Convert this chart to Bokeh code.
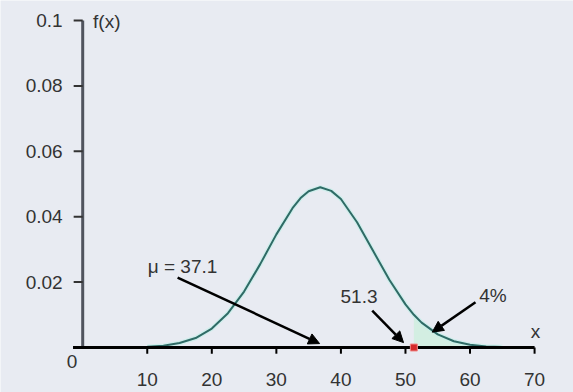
from bokeh.plotting import figure
from bokeh.models import Arrow, NormalHead
from bokeh.core.properties import value
from bokeh.embed import file_html
from bokeh.resources import INLINE

# ---- data ----
curve_x = [10, 12.5, 15, 17.5, 20, 22.5, 25, 27.5, 30, 32.5, 33.75, 35, 36.8, 38.5,
           40, 42.5, 45, 47.5, 50, 51.3, 52.5, 55, 57.5, 60, 62.5, 65]
curve_y = [0.00022, 0.00057, 0.00136, 0.0029, 0.0058, 0.0105, 0.0171, 0.0255, 0.0346,
           0.0426, 0.0457, 0.0478, 0.049, 0.0479, 0.0454, 0.0383, 0.0295, 0.0207,
           0.0132, 0.0100, 0.0076, 0.0040, 0.0019, 0.00084, 0.00034, 0.00012]
mean_value = 36.8
mean_label = "37.1"
threshold = 51.3
tail_pct = "4%"
x_ticks = [10, 20, 30, 40, 50, 60, 70]
y_ticks = [0.02, 0.04, 0.06, 0.08, 0.1]
y_tick_labels = ["0.02", "0.04", "0.06", "0.08", "0.1"]

BG = "#e8ebf2"
TXT = "#333333"
FONT = value("Liberation Sans")
FS = "19px"

W, H = 573, 392
p = figure(width=W, height=H, output_backend="svg", toolbar_location=None,
           x_range=(-12.734, 76.03), y_range=(-0.013761, 0.10612),
           min_border=0, min_border_left=0, min_border_right=0,
           min_border_top=0, min_border_bottom=0)
p.axis.visible = False
p.grid.visible = False
p.outline_line_color = None
p.background_fill_color = BG
p.border_fill_color = BG

# shaded tail
tx = [x for x in curve_x if x >= threshold]
ty = [y for x, y in zip(curve_x, curve_y) if x >= threshold]
p.varea(x=tx, y1=[0] * len(tx), y2=ty, fill_color="#d3eee2")

# curve (light halo + line)
p.line(curve_x, curve_y, line_color="#c4f0ea", line_width=4.5, line_alpha=0.7)
p.line(curve_x, curve_y, line_color="#2f6b66", line_width=2)

# axes
p.segment(x0=[0], y0=[0], x1=[0], y1=[y_ticks[-1]], line_color="#50545e", line_width=3)
p.segment(x0=[-1.4] * len(y_ticks), y0=y_ticks, x1=[0] * len(y_ticks), y1=y_ticks,
          line_color="#333333", line_width=2)
p.segment(x0=[-1.5], y0=[0], x1=[x_ticks[-1]], y1=[0], line_color="#000000", line_width=3)
p.segment(x0=x_ticks, y0=[0] * len(x_ticks), x1=x_ticks, y1=[-0.0019] * len(x_ticks),
          line_color="#000000", line_width=2)

# tick labels
p.text(x=[-3.1] * len(y_ticks), y=y_ticks, text=y_tick_labels, text_align="right",
       text_baseline="middle", text_font=FONT, text_font_size=FS, text_color=TXT)
p.text(x=x_ticks, y=[-0.0098] * len(x_ticks), text=[str(t) for t in x_ticks],
       text_align="center", text_baseline="middle", text_font=FONT,
       text_font_size=FS, text_color=TXT)
p.text(x=[-1.66], y=[-0.0044], text=["0"], text_align="center", text_baseline="middle",
       text_font=FONT, text_font_size=FS, text_color=TXT)
p.text(x=[1.6], y=[0.0997], text=["f(x)"], text_align="left", text_baseline="middle",
       text_font=FONT, text_font_size=FS, text_color=TXT)
p.text(x=[70.15], y=[0.0049], text=["x"], text_align="center", text_baseline="middle",
       text_font=FONT, text_font_size=FS, text_color=TXT)

# annotations
p.text(x=[15.46], y=[0.0249], text=["\u03bc = " + mean_label], text_align="center",
       text_baseline="middle", text_font=FONT, text_font_size=FS, text_color=TXT)
p.text(x=[42.8], y=[0.0156], text=[str(threshold)], text_align="center",
       text_baseline="middle", text_font=FONT, text_font_size=FS, text_color=TXT)
p.text(x=[63.56], y=[0.0159], text=[tail_pct], text_align="center",
       text_baseline="middle", text_font=FONT, text_font_size=FS, text_color=TXT)

def arrow(x0, y0, x1, y1):
    p.add_layout(Arrow(end=NormalHead(size=11, fill_color="black", line_color="black"),
                       x_start=x0, y_start=y0, x_end=x1, y_end=y1,
                       line_color="black", line_width=2.5))

arrow(14.7, 0.0214, mean_value - 0.1, 0.0012)
arrow(44.85, 0.0113, 49.7, 0.0015)
arrow(60.85, 0.01385, 54.15, 0.0047)

# threshold marker
p.scatter(x=[threshold], y=[0], marker="square", size=7, fill_color="#d42a2a",
          line_color="#f08a8a", line_width=1)

html = file_html(p, INLINE)
html = html.replace("<body>", '<body style="background:%s">' % BG, 1)
open("out.html", "w").write(html)
